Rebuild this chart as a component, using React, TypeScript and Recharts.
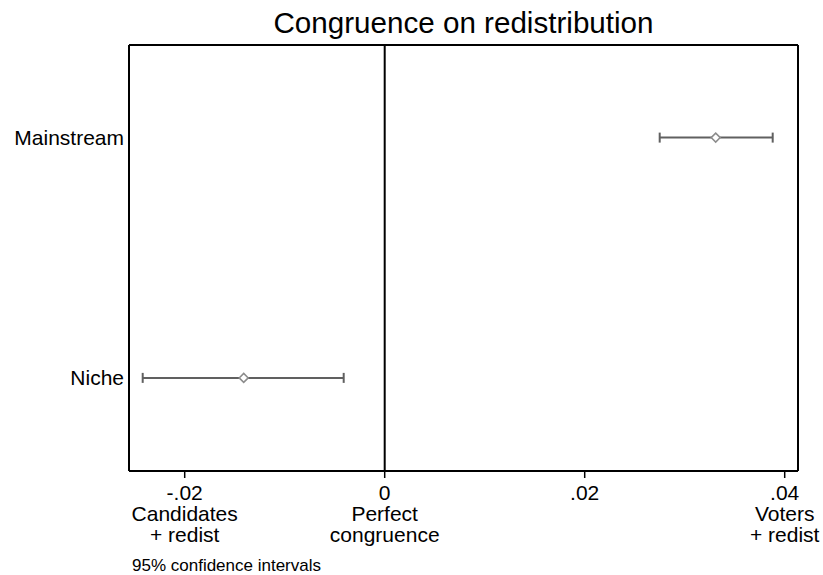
import React from 'react';
import { ScatterChart, Scatter, XAxis, YAxis, ErrorBar, ReferenceLine } from 'recharts';

const categories = ['Niche', 'Mainstream'];
const categoryPos = [1, 2];
const estimates = [-0.0141, 0.0331];
const ciLow = [-0.0242, 0.0275];
const ciHigh = [-0.0041, 0.0388];
const xTicks = [-0.02, 0, 0.02, 0.04];
const xTickLabels = ['-.02', '0', '.02', '.04'];
const xTickNotes = [['Candidates', '+ redist'], ['Perfect', 'congruence'], [], ['Voters', '+ redist']];

const FONT = '"Liberation Sans", Arial, Helvetica, sans-serif';
const X_MIN = -0.02557;
const X_MAX = 0.04133;
const Y_MIN = 0.6125;
const Y_MAX = 2.3854;

const data = categories.map((c, i) => ({
  name: c,
  y: categoryPos[i],
  x: estimates[i],
  err: [estimates[i] - ciLow[i], ciHigh[i] - estimates[i]],
}));

const XTick = (props: any) => {
  const { x, y, payload } = props;
  const idx = xTicks.findIndex((t) => Math.abs(t - payload.value) < 1e-9);
  const label = idx >= 0 ? xTickLabels[idx] : String(payload.value);
  const notes = idx >= 0 ? xTickNotes[idx] : [];
  return (
    <g>
      <text x={x} y={y + 21.5} textAnchor="middle" fontSize={21} fill="#000" fontFamily={FONT}>
        {label}
      </text>
      {notes.map((n: string, j: number) => (
        <text key={j} x={x} y={y + 21.5 + 21 * (j + 1)} textAnchor="middle" fontSize={21} fill="#000" fontFamily={FONT}>
          {n}
        </text>
      ))}
    </g>
  );
};

const Diamond = (props: any) => {
  const { cx, cy } = props;
  const r = 4.5;
  return (
    <path
      d={`M${cx},${cy - r}L${cx + r},${cy}L${cx},${cy + r}L${cx - r},${cy}Z`}
      fill="#fff"
      stroke="#8c8c8c"
      strokeWidth={1.5}
    />
  );
};

export default function App() {
  const xDomain: [number, number] = [X_MIN, X_MAX];
  return (
    <div style={{ position: 'absolute', left: 0, top: 0, width: 823, height: 575, background: '#fff' }}>
      <div
        style={{
          position: 'absolute',
          left: 129,
          width: 669,
          top: 7.5,
          textAlign: 'center',
          fontFamily: FONT,
          fontSize: 29.6,
          lineHeight: '29px',
          color: '#000',
          whiteSpace: 'nowrap',
        }}
      >
        Congruence on redistribution
      </div>
      <ScatterChart width={823} height={575} margin={{ top: 45, right: 25, bottom: 0, left: 0 }}>
        <XAxis
          dataKey="x"
          type="number"
          domain={xDomain}
          ticks={xTicks}
          allowDataOverflow
          height={104}
          tickSize={7}
          tickMargin={0}
          tick={<XTick />}
          axisLine={{ stroke: '#000', strokeWidth: 2 }}
          tickLine={{ stroke: '#000', strokeWidth: 1.5 }}
        />
        <YAxis
          dataKey="y"
          type="number"
          domain={[Y_MIN, Y_MAX]}
          ticks={categoryPos}
          allowDataOverflow
          width={129}
          tickSize={0}
          tickMargin={5}
          tickLine={false}
          tickFormatter={(v: number) => categories[categoryPos.indexOf(v)] ?? ''}
          tick={{ fontSize: 21, fill: '#000', fontFamily: FONT }}
          axisLine={{ stroke: '#000', strokeWidth: 2 }}
        />
        <ReferenceLine y={Y_MAX} stroke="#000" strokeWidth={2} ifOverflow="visible" />
        <ReferenceLine x={X_MAX} stroke="#000" strokeWidth={2} ifOverflow="visible" />
        <ReferenceLine x={0} stroke="#000" strokeWidth={2} />
        <Scatter data={data} isAnimationActive={false} shape={<Diamond />}>
          <ErrorBar dataKey="err" direction="x" width={5} stroke="#606060" strokeWidth={2} />
        </Scatter>
      </ScatterChart>
      <div
        style={{
          position: 'absolute',
          left: 132,
          top: 556.6,
          fontFamily: FONT,
          fontSize: 17,
          lineHeight: '17px',
          color: '#000',
          whiteSpace: 'nowrap',
        }}
      >
        95% confidence intervals
      </div>
    </div>
  );
}
